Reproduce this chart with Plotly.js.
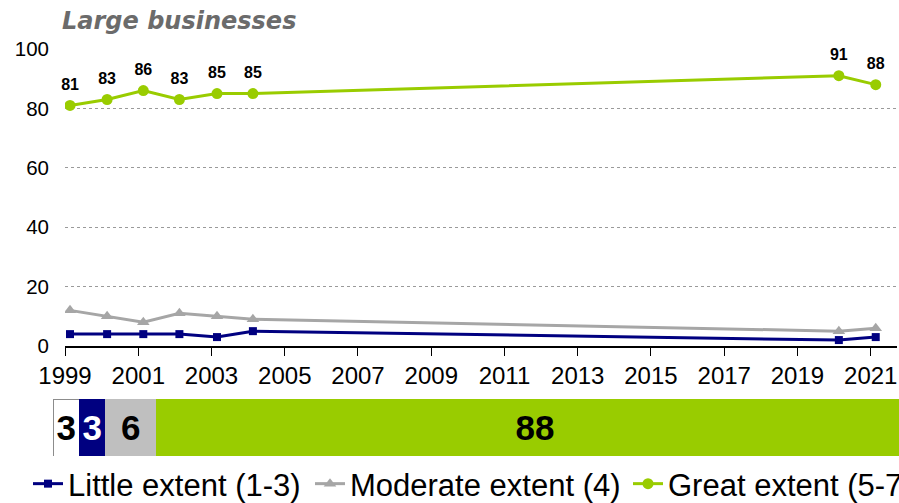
<!DOCTYPE html>
<html>
<head>
<meta charset="utf-8">
<script src="https://cdn.plot.ly/plotly-3.0.1.min.js"></script>
<style>
  html, body { margin: 0; padding: 0; background: #ffffff; }
  #chart { width: 899px; height: 503px; }
</style>
</head>
<body>
<div id="chart"></div>
<script>
// ---- data ----
const surveyDates = ['1999-02-20', '2000-02-25', '2001-02-20', '2002-02-15', '2003-02-25', '2004-02-18', '2020-02-18', '2021-02-20'];
const littleExtent = [4, 4, 4, 4, 3, 5, 2, 3];
const moderateExtent = [12, 10, 8, 11, 10, 9, 5, 6];
const greatExtent = [81, 83, 86, 83, 85, 85, 91, 88];
const seriesNames = ['Little extent (1-3)', 'Moderate extent (4)', 'Great extent (5-7)'];

const barCategories = ['No answer', 'Little extent (1-3)', 'Moderate extent (4)', 'Great extent (5-7)'];
const barValues = [3, 3, 6, 88];
const yTickValues = [0, 20, 40, 60, 80, 100];

// ---- styles ----
const NAVY = '#000080', GREY = '#a6a6a6', GREEN = '#99cc00';
const barFill = ['#ffffff', NAVY, '#bfbfbf', GREEN];
const barLine = ['#8c8c8c', NAVY, '#bfbfbf', GREEN];
const barTextColor = ['#000000', '#ffffff', '#000000', '#000000'];
const FONT = 'Liberation Sans, Arial, sans-serif';

const traces = [
  {
    x: surveyDates, y: littleExtent, name: seriesNames[0], type: 'scatter', mode: 'lines+markers',
    line: {color: NAVY, width: 3}, marker: {symbol: 'square', size: 8, color: NAVY},
    legend: 'legend', xaxis: 'x', yaxis: 'y'
  },
  {
    x: surveyDates, y: moderateExtent, name: seriesNames[1], type: 'scatter', mode: 'lines+markers',
    line: {color: GREY, width: 3}, marker: {symbol: 'triangle-up', size: 11, color: GREY},
    legend: 'legend2', xaxis: 'x', yaxis: 'y'
  },
  {
    x: surveyDates, y: greatExtent, name: seriesNames[2], type: 'scatter', mode: 'lines+markers',
    line: {color: GREEN, width: 3}, marker: {symbol: 'circle', size: 11, color: GREEN},
    legend: 'legend3', xaxis: 'x', yaxis: 'y'
  },
  {
    // value labels for the great-extent series
    x: surveyDates, y: greatExtent, type: 'scatter', mode: 'markers+text', showlegend: false,
    text: greatExtent.map(String), textposition: 'top center', cliponaxis: false,
    textfont: {family: FONT, size: 16, color: '#000000', weight: 'bold'},
    marker: {size: 17, color: 'rgba(0,0,0,0)'}, hoverinfo: 'skip', xaxis: 'x', yaxis: 'y'
  }
];

barCategories.forEach(function (cat, i) {
  traces.push({
    type: 'bar', orientation: 'h', name: cat, showlegend: false,
    y: ['2021'], x: [barValues[i]],
    marker: {color: barFill[i], line: {color: barLine[i], width: 1}},
    text: [String(barValues[i])], textposition: 'inside', insidetextanchor: 'middle',
    constraintext: 'none',
    textfont: {family: FONT, size: 35, color: barTextColor[i], weight: 'bold'},
    xaxis: 'x2', yaxis: 'y2', hoverinfo: 'skip'
  });
});

const W = 899, H = 503;
const legendFont = {family: FONT, size: 31, color: '#000000'};
function legendAt(px, py) {
  return {
    xref: 'container', yref: 'container', x: px / W, y: 1 - py / H,
    xanchor: 'left', yanchor: 'middle', orientation: 'h',
    font: legendFont, bgcolor: 'rgba(0,0,0,0)', borderwidth: 0
  };
}

const layout = {
  width: W, height: H,
  margin: {l: 53, r: 0, t: 49, b: 43, autoexpand: false},
  paper_bgcolor: '#ffffff', plot_bgcolor: '#ffffff',
  showlegend: true,
  barmode: 'stack', bargap: 0,
  title: {
    text: 'Large businesses', xref: 'container', yref: 'container',
    x: 62 / W, xanchor: 'left', y: 1 - 20.5 / H, yanchor: 'middle',
    font: {family: 'DejaVu Sans, sans-serif', size: 24, color: '#6b6b6b', weight: 'bold', style: 'italic'}
  },
  xaxis: {
    type: 'date', domain: [12 / 846, 844 / 846], anchor: 'y',
    range: ['1999-01-01', '2021-09-20'],
    tick0: '1999-01-01', dtick: 'M24', tickformat: '%Y',
    showgrid: false, zeroline: false,
    showline: true, linecolor: '#000000', linewidth: 1.5,
    ticks: 'outside', ticklen: 8, tickcolor: '#000000', tickwidth: 1,
    tickfont: {family: FONT, size: 24, color: '#000000'}
  },
  yaxis: {
    domain: [114 / 411, 1], anchor: 'x', range: [0, 100],
    tickvals: yTickValues, ticktext: yTickValues.map(String),
    showgrid: true, gridcolor: '#9a9a9a', gridwidth: 1, griddash: 'dot',
    zeroline: false, showline: false, ticks: '',
    ticklabelstandoff: 15,
    tickfont: {family: FONT, size: 20.5, color: '#000000'}
  },
  xaxis2: {
    domain: [0, 1], anchor: 'y2', range: [-0.05, 98.32], visible: false, fixedrange: true
  },
  yaxis2: {
    domain: [4 / 411, 61 / 411], anchor: 'x2', range: [-0.5, 0.5], visible: false,
    type: 'category', fixedrange: true
  },
  legend: legendAt(28, 484),
  legend2: legendAt(310, 484),
  legend3: legendAt(628, 484)
};

Plotly.newPlot('chart', traces, layout, {displayModeBar: false, staticPlot: true});
</script>
</body>
</html>
